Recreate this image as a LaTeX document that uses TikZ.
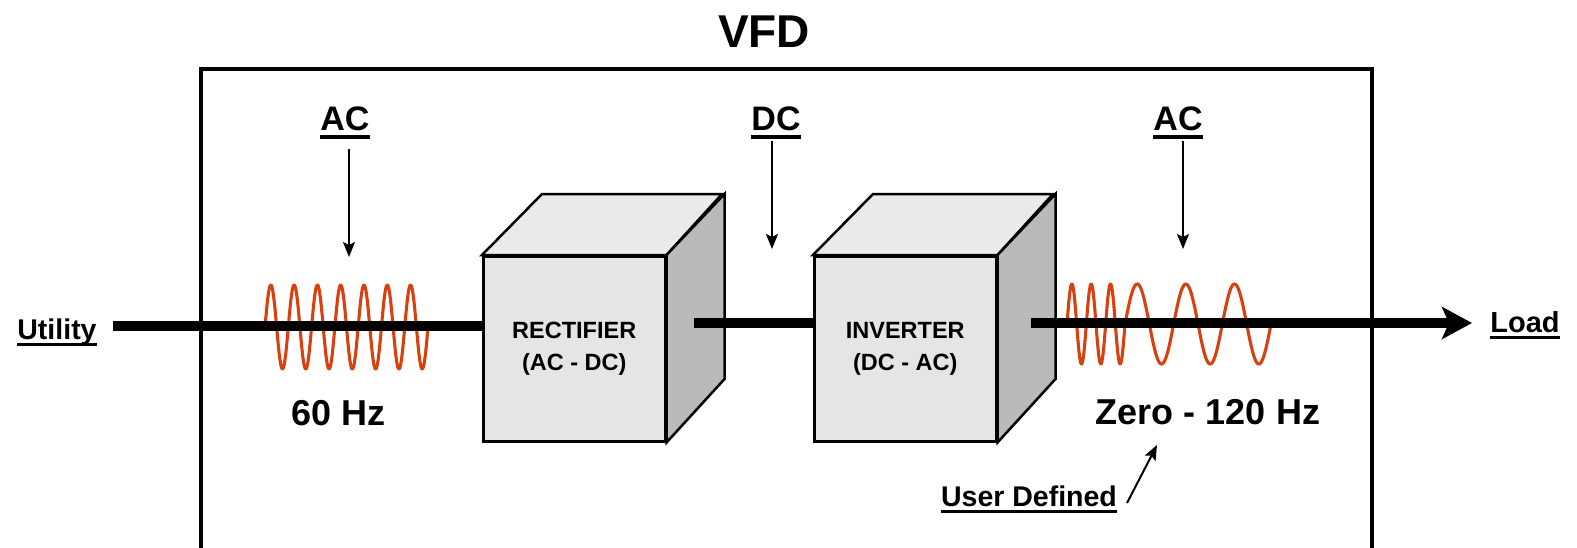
\documentclass[tikz,border=0pt]{standalone}
\usepackage{fontspec}
\setmainfont{Liberation Sans}
\usetikzlibrary{arrows.meta}
\definecolor{wavecol}{RGB}{215,65,15}
\definecolor{frontgray}{RGB}{229,229,229}
\definecolor{topgray}{RGB}{234,234,234}
\definecolor{sidegray}{RGB}{186,186,186}
\newcommand\ulin[1]{\setbox0\hbox{#1}\rlap{\rule[-0.25em]{\wd0}{0.1em}}\box0}
\begin{document}
\begin{tikzpicture}[x=1pt,y=-1pt,
  lbl/.style={inner sep=0pt, font=\bfseries\fontsize{#1}{#1}\selectfont},
  face/.style={draw, line width=2.5pt, fill=frontgray, minimum width=182pt, minimum height=185pt,
     inner sep=0pt, align=center, font=\bfseries\fontsize{23.5}{32}\selectfont, anchor=north west},
  cubeedge/.style={draw, line width=2.5pt, line join=miter},
  thinarrow/.style={line width=2pt, -{Stealth[length=15pt,width=12pt,inset=3pt]}},
  bigline/.style={line width=10pt},
  wave/.style={line width=3.1pt, wavecol, line join=round}
]
\useasboundingbox (0,0) rectangle (1577,547);
% frame
\draw[line width=4.5pt] (201,549) -- (201,69) -- (1372,69) -- (1372,549);
\node[lbl=46] (vfd) at (764,32) {VFD};
% cubes
\node[face] (rect) at (482,255) {RECTIFIER\\(AC - DC)};
\draw[cubeedge, fill=topgray] (rect.north west) -- ++(60,-61) -- ++(180,0) -- (rect.north east) -- cycle;
\draw[cubeedge, fill=sidegray] (rect.north east) -- ++(58,-61) -- ++(0,185) -- (rect.south east) -- cycle;
\node[face] (inv) at (813,255) {INVERTER\\(DC - AC)};
\draw[cubeedge, fill=topgray] (inv.north west) -- ++(60,-61) -- ++(180,0) -- (inv.north east) -- cycle;
\draw[cubeedge, fill=sidegray] (inv.north east) -- ++(58,-61) -- ++(0,185) -- (inv.south east) -- cycle;
% waves
\draw[wave] plot[domain=265:428, samples=350, smooth] (\x, {327 - 42*sin((\x-265)*15.457)});
\draw[wave] plot[domain=1067:1125, samples=150, smooth] (\x, {324 - 40*sin((\x-1067)*18.624)})
   -- plot[domain=1125:1271, samples=200, smooth] (\x, {324 - 40*sin((\x-1125)*7.397)});
% main lines
\coordinate (u0) at (113,326);
\coordinate (m0) at (694,323);
\coordinate (r0) at (1031,323);
\coordinate (r1) at (1472,323);
\draw[bigline] (u0) -- (u0 -| rect.west);
\draw[bigline] (m0) -- (m0 -| inv.west);
\draw[bigline, -{Stealth[length=30pt,width=32pt,inset=7pt]}] (r0) -- (r1);
% labels
\node[lbl=28.5, anchor=base] (util) at (57,339) {\ulin{Utility}};
\node[lbl=29, anchor=base] (load) at (1525,332) {\ulin{Load}};
\node[lbl=34, anchor=base] (ac1) at (345,130) {\ulin{AC}};
\node[lbl=34, anchor=base] (dc) at (776,130) {\ulin{DC}};
\node[lbl=34, anchor=base] (ac2) at (1178,130) {\ulin{AC}};
\node[lbl=36] (f1) at (339,413) {60 Hz};
\node[lbl=36] (f2) at (1208,412) {Zero - 120 Hz};
\node[lbl=28.5, anchor=base] (user) at (1029,506) {\ulin{User Defined}};
% arrows
\coordinate (a1s) at (349,149); \coordinate (a1e) at (349,257);
\coordinate (a2s) at (772,141); \coordinate (a2e) at (772,249);
\coordinate (a3s) at (1183,141); \coordinate (a3e) at (1183,249);
\coordinate (ue) at (1157,445);
\coordinate (us) at (1127,503);
\draw[thinarrow] (a1s) -- (a1e);
\draw[thinarrow] (a2s) -- (a2e);
\draw[thinarrow] (a3s) -- (a3e);
\draw[thinarrow] (us) -- (ue);
\end{tikzpicture}
\end{document}
